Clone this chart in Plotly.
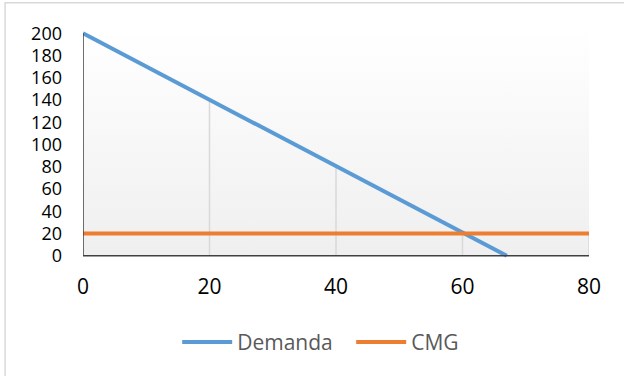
import plotly.graph_objects as go

# Demand curve and constant marginal cost (CMG)
q_demanda = [0, 20, 40, 60, 67]
p_demanda = [200, 140, 80, 20, 0]
q_cmg = [0, 20, 40, 60, 80]
p_cmg = [20, 20, 20, 20, 20]

x_ticks = [0, 20, 40, 60, 80]
y_ticks = [0, 20, 40, 60, 80, 100, 120, 140, 160, 180, 200]

BLUE = "#5B9BD5"
ORANGE = "#ED7D31"
FONT = "Open Sans"

x_min, x_max = x_ticks[0], x_ticks[-1]
y_min, y_max = y_ticks[0], y_ticks[-1]

fig = go.Figure()

# plot-area background: vertical gradient, light gray at the bottom to white at the top
fig.add_trace(go.Scatter(
    x=[x_min, x_max, x_max, x_min, x_min],
    y=[y_min, y_min, y_max + 3, y_max + 3, y_min],
    mode="lines", line=dict(width=0), fill="toself",
    fillgradient=dict(type="vertical",
                      colorscale=[[0, "#EFEFEF"], [1, "#FFFFFF"]]),
    hoverinfo="skip", showlegend=False,
))

# drop lines: from the highest series value at each x down to the axis
tops = {}
for xs, ys in ((q_demanda, p_demanda), (q_cmg, p_cmg)):
    for xv, yv in zip(xs, ys):
        tops[xv] = max(tops.get(xv, yv), yv)
drop_x, drop_y = [], []
for xv in sorted(tops):
    if xv == x_min:
        continue
    drop_x += [xv, xv, None]
    drop_y += [y_min, tops[xv], None]
fig.add_trace(go.Scatter(
    x=drop_x, y=drop_y, mode="lines",
    line=dict(color="#D9D9D9", width=1.5),
    hoverinfo="skip", showlegend=False,
))

fig.add_trace(go.Scatter(
    x=q_demanda, y=p_demanda, mode="lines", name="Demanda",
    line=dict(color=BLUE, width=4),
))
fig.add_trace(go.Scatter(
    x=q_cmg, y=p_cmg, mode="lines", name="CMG",
    line=dict(color=ORANGE, width=4),
))

# axis lines on top of the background
axis_shapes = [
    dict(type="line", xref="x", yref="y", x0=x_min, x1=x_max, y0=y_min, y1=y_min,
         line=dict(color="#404040", width=1.5), layer="above"),
    dict(type="line", xref="x", yref="y", x0=x_min, x1=x_min, y0=y_min, y1=y_max,
         line=dict(color="#404040", width=1.5), layer="above"),
    # chart-area border
    dict(type="rect", xref="paper", yref="paper", x0=-0.154, x1=1.3, y0=-1.0, y1=1.12,
         line=dict(color="#D9D9D9", width=1.5), fillcolor="rgba(0,0,0,0)", layer="below"),
]

fig.update_layout(
    width=624, height=376,
    margin=dict(l=83, r=35, t=30, b=118),
    paper_bgcolor="white", plot_bgcolor="white",
    font=dict(family=FONT, color="#000000"),
    shapes=axis_shapes,
    showlegend=True,
    legend=dict(
        orientation="h", x=0.53, xanchor="center", y=-0.37, yanchor="middle",
        font=dict(family=FONT, size=21, color="#595959"),
        bgcolor="rgba(0,0,0,0)", itemwidth=50,
        entrywidth=109, entrywidthmode="pixels",
    ),
    xaxis=dict(
        range=[x_min, x_max], tickvals=x_ticks, ticktext=[str(v) for v in x_ticks],
        showgrid=False, zeroline=False, showline=False, ticks="",
        tickfont=dict(family=FONT, size=21, color="#000000"),
        ticklabelstandoff=14,
    ),
    yaxis=dict(
        range=[-2, 203], tickvals=y_ticks, ticktext=[str(v) for v in y_ticks],
        showgrid=False, zeroline=False, showline=False, ticks="",
        tickfont=dict(family=FONT, size=18, color="#000000"),
        ticklabelstandoff=20,
    ),
)

fig.write_html("out.html")
